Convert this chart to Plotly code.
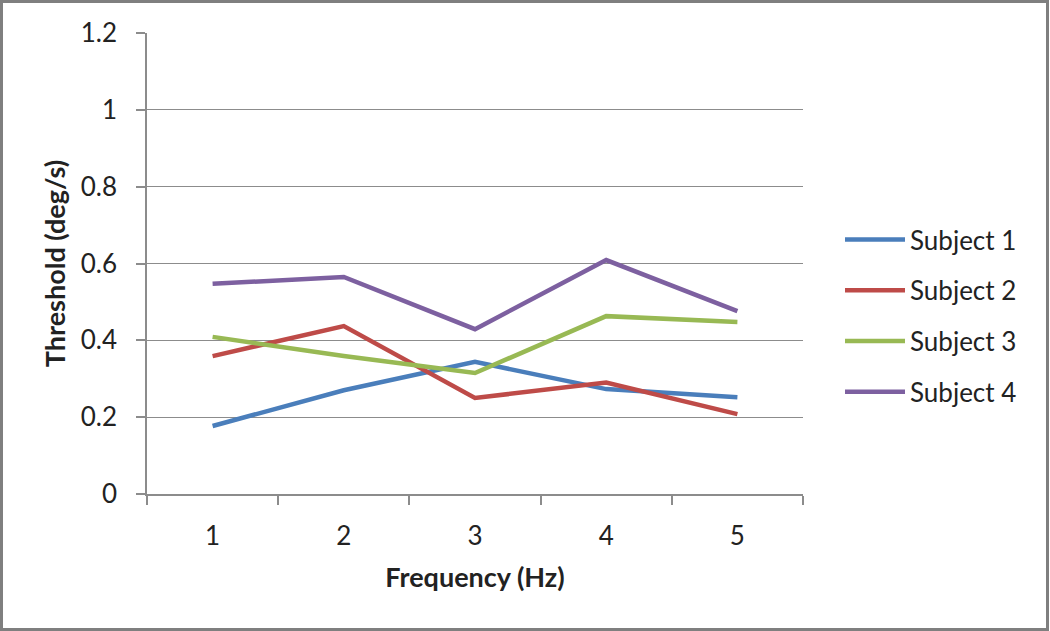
import plotly.graph_objects as go

frequency = [1, 2, 3, 4, 5]
subject_names = ["Subject 1", "Subject 2", "Subject 3", "Subject 4"]
subject1 = [0.177, 0.270, 0.344, 0.273, 0.252]
subject2 = [0.359, 0.437, 0.250, 0.290, 0.208]
subject3 = [0.409, 0.359, 0.315, 0.463, 0.448]
subject4 = [0.547, 0.565, 0.429, 0.609, 0.476]
colors = ["#4a7ebb", "#be4b48", "#98b954", "#7d60a0"]
y_ticks = [0, 0.2, 0.4, 0.6, 0.8, 1, 1.2]

W, H = 1050, 631
ml, mr, mt, mb = 147, 247, 33, 137
pw, ph = W - ml - mr, H - mt - mb

fig = go.Figure()
for name, vals, c in zip(subject_names, [subject1, subject2, subject3, subject4], colors):
    fig.add_trace(go.Scatter(x=frequency, y=vals, mode="lines", name=name,
                             legendgroup=name,
                             line=dict(color=c, width=4.5)))

font = "Lato, 'Open Sans', sans-serif"
fig.update_layout(
    width=W, height=H,
    margin=dict(l=ml, r=mr, t=mt, b=mb, autoexpand=False),
    paper_bgcolor="white", plot_bgcolor="white",
    font=dict(family=font, size=26, color="#222222"),
    xaxis=dict(range=[0.5, 5.5], tickvals=frequency, ticktext=[str(f) for f in frequency],
               showgrid=False, zeroline=False, showline=True, linecolor="#8c8c8c", linewidth=1.5,
               ticks="", ticklabelstandoff=18, automargin=False,
               minor=dict(ticks="outside", tick0=0.5, dtick=1, ticklen=9, tickcolor="#8c8c8c", tickwidth=1.5, showgrid=False),
               title=dict(text="<b>Frequency (Hz)</b>", font=dict(size=27), standoff=18)),
    yaxis=dict(range=[0, 1.2], tickvals=y_ticks, ticktext=["0", "0.2", "0.4", "0.6", "0.8", "1", "1.2"],
               showgrid=True, gridcolor="#8c8c8c", gridwidth=1.2, zeroline=False,
               showline=True, linecolor="#8c8c8c", linewidth=1.5,
               ticks="outside", ticklen=9, tickcolor="#8c8c8c", tickwidth=1.5,
               ticklabelstandoff=14, automargin=False,
               title=dict(text="<b>Threshold (deg/s)</b>", font=dict(size=27), standoff=7)),
    legend=dict(x=(840 - ml) / pw, y=(494 - 216) / ph, xanchor="left", yanchor="top",
                font=dict(size=26), tracegroupgap=14, traceorder="grouped",
                itemwidth=60, bgcolor="rgba(0,0,0,0)"),
    showlegend=True,
)

# outer frame
fig.add_shape(type="rect", xref="paper", yref="paper",
              x0=(1.5 - ml) / pw, x1=(1047.5 - ml) / pw,
              y0=(494 - 629.5) / ph, y1=(494 - 1.5) / ph,
              line=dict(color="#7f7f7f", width=3), fillcolor="rgba(0,0,0,0)", layer="above")

fig.write_html("out.html", config={"displayModeBar": False},
               post_script="document.body.style.margin='0';document.body.style.overflow='hidden';")
